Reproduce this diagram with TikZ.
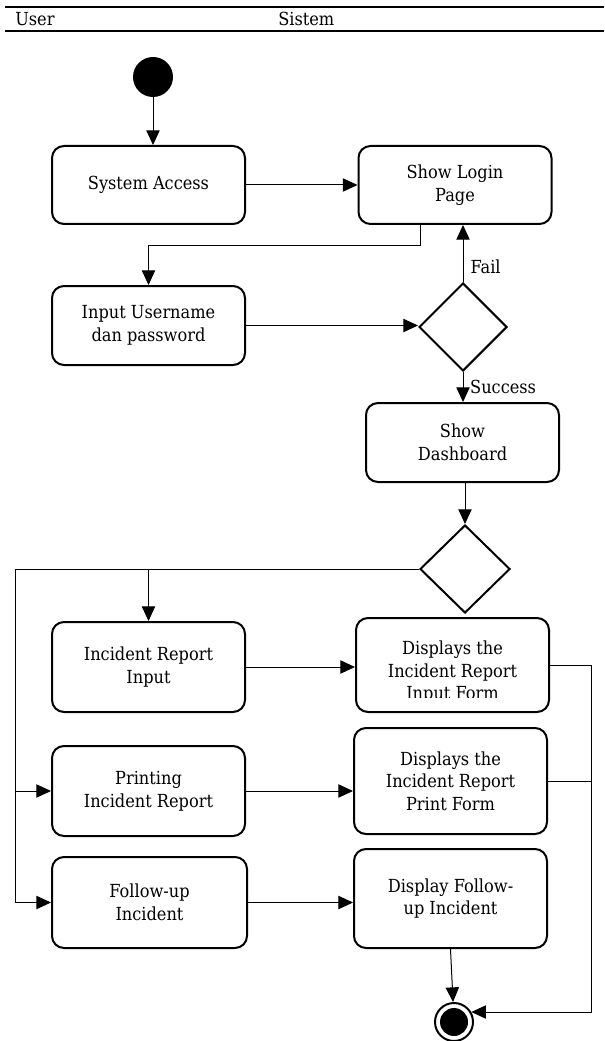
\documentclass[tikz,border=0pt]{standalone}
\usepackage{fontspec}
\setmainfont{DejaVu Serif Condensed}
\usepackage{tikz}
\usetikzlibrary{
    positioning,
    arrows.meta,
    shapes.geometric,
    calc
}
\newcommand{\diagfont}{\fontsize{13.5pt}{17pt}\selectfont}
\tikzset{
    action/.style={
        rectangle, draw, line width=1.5pt,
        rounded corners=9pt,
        minimum width=144.75pt, minimum height=58.5pt,
        align=center, inner sep=2pt
    },
    decision/.style={
        diamond, draw, line width=1.5pt,
        minimum width=66pt, minimum height=66pt, inner sep=0pt
    },
    flow/.style={
        -{Triangle[length=11pt, width=10pt]}, line width=0.75pt
    },
    link/.style={
        line width=0.75pt
    },
    lane_rule/.style={
        line width=1.5pt
    }
}

\begin{document}
\begin{tikzpicture}[
    x=0.75pt, y=-0.75pt,
    every node/.style={font=\diagfont},
    start_dot/.style={circle, fill, minimum size=30pt, inner sep=0pt},
    end_ring/.style={circle, draw, line width=1.5pt, minimum size=28.5pt, inner sep=0pt},
    end_dot/.style={circle, fill, minimum size=21pt, inner sep=0pt}
  ]
    \useasboundingbox (0,0) rectangle (604,1041);

    % swimlane header
    \draw[lane_rule] (5,7) -- (604,7);
    \draw[lane_rule] (5,31) -- (604,31);
    \node[anchor=west, inner sep=0pt] (lane_user) at (15,19) {User};
    \node[anchor=west, inner sep=0pt] (lane_sistem) at (278,19) {Sistem};

    % login part
    \node[start_dot] (start) at (153,77) {};
    \node[action] (sys_access) at (148.5,185) {System Access};
    \node[action] (login_page) at (455,185) {Show Login\\Page};
    \node[action, minimum height=59.25pt] (input_user) at (148.5,325.5) {Input Username\\dan password};
    \node[decision] (check_login) at (463,327) {};
    \node[action, minimum height=59.25pt] (dashboard) at (462.5,442.5) {Show\\Dashboard};

    \draw[flow] (start) -- (start |- sys_access.north);
    \draw[flow] (sys_access) -- (login_page);
    \draw[flow] ([xshift=-26.25pt]login_page.south) -- ++(0,20) -| (input_user.north);
    \draw[flow] (input_user.east) -- (input_user.east -| check_login.west);
    \draw[flow] (check_login.north) -- (check_login.north |- login_page.south)
        node[pos=0.27, right, xshift=2pt] (fail_label) {Fail};
    \draw[flow] (check_login.south) -- (check_login.south |- dashboard.north)
        node[midway, right, inner sep=1pt, xshift=4pt] (success_label) {Success};

    % menu part
    \node[decision, minimum width=67.5pt] (menu_choice) at (465,569) {};
    \node[action, minimum height=67.5pt] (report_input) at (148.5,667) {Incident Report\\Input};
    \node[action, minimum height=70.5pt] (report_form) at (452.5,665) {};
    \begin{scope}
        \clip (report_form.north west) rectangle ([yshift=12pt]report_form.south east);
        \node[align=center] (report_form_text) at ([yshift=-5.5pt]report_form.center) {Displays the\\Incident Report\\Input Form};
    \end{scope}
    \node[action, minimum height=67.5pt] (report_print) at (148.5,791) {Printing\\Incident Report};
    \node[action, minimum height=79.5pt] (print_form) at (450.5,781) {Displays the\\Incident Report\\Print Form};
    \node[action, minimum height=68.25pt, minimum width=146.25pt] (follow_up) at (149.5,902.5) {Follow-up\\Incident};
    \node[action, minimum height=74.25pt] (follow_form) at (450.5,898.5) {Display Follow-\\up Incident};
    \node[end_ring] (finish) at (454,1022) {};
    \node[end_dot] (finish_dot) at (finish) {};

    \draw[flow] (dashboard.south -| menu_choice.north) -- (menu_choice.north);
    \draw[link] (menu_choice.west) -- ++(-404,0) coordinate (left_bus);
    \draw[flow] (report_input.north |- left_bus) -- (report_input.north);
    \draw[flow] (left_bus |- report_print.west) -- (report_print.west);
    \draw[flow] (left_bus) |- (follow_up.west);

    \draw[flow] (report_input.east) -- (report_input.east -| report_form.west);
    \draw[flow] (report_print.east) -- (report_print.east -| print_form.west);
    \draw[flow] (follow_up.east) -- (follow_up.east -| follow_form.west);
    \draw[flow] (follow_form.south) -- (finish);

    \draw[link] (report_form.east) -- ++(41,0) coordinate (right_bus);
    \draw[link] (print_form.east) -- (print_form.east -| right_bus);
    \draw[flow] (right_bus) |- (finish.30);

\end{tikzpicture}
\end{document}
